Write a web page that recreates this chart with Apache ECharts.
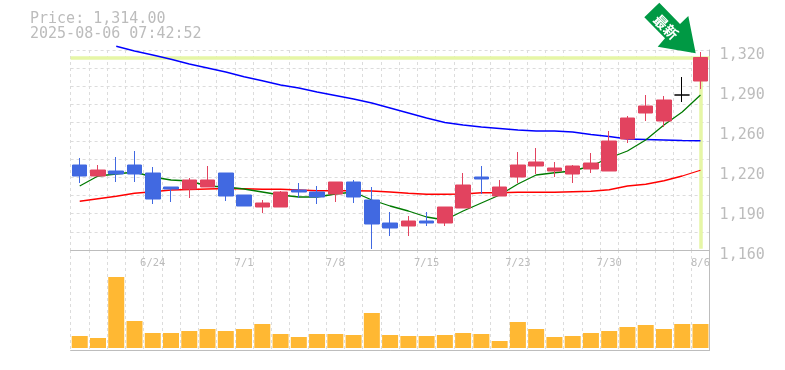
<!DOCTYPE html>
<html>
<head>
<meta charset="utf-8">
<style>html,body{margin:0;padding:0;background:#fff}#c{width:785px;height:370px}</style>
<script src="https://cdn.jsdelivr.net/npm/echarts@6/dist/echarts.min.js"></script>
</head>
<body>
<div id="c"></div>
<script>
const categories = ['6/18','6/19','6/20','6/23','6/24','6/25','6/26','6/27','6/30','7/1','7/2','7/3','7/4','7/7','7/8','7/9','7/10','7/11','7/14','7/15','7/16','7/17','7/18','7/22','7/23','7/24','7/25','7/28','7/29','7/30','7/31','8/1','8/4','8/5','8/6'];
const labelledDates = ['6/24','7/1','7/8','7/15','7/23','7/30','8/6'];
const priceText = 'Price: 1,314.00';
const timeText = '2025-08-06 07:42:52';
const badgeText = '最新';
// open, close, low, high
const candles = [
[1228,1219.2,1213.6,1233.6],[1219.2,1224,1219.2,1228],[1223.2,1220.8,1214.4,1234.4],[1228,1220.8,1214.4,1239.2],
[1221.6,1200.8,1196.8,1226.4],[1210.4,1208.8,1198.4,1210.4],[1208.8,1216,1201.6,1217.6],[1210.4,1216,1210.4,1227.2],
[1221.6,1203.2,1199.2,1221.6],[1204,1195.2,1195.2,1204],[1194.4,1197.6,1189.6,1200],[1194.4,1206.4,1194.4,1207.2],
[1208,1206.4,1201.6,1213.6],[1206.4,1202.4,1196.8,1211.2],[1204.8,1214.4,1198.4,1214.4],[1214.4,1202.4,1197.6,1216],
[1200,1180.8,1160.8,1210.4],[1181.6,1177.6,1171.2,1190.4],[1179.2,1183.2,1171.2,1187.2],[1183.2,1181.6,1179.2,1190.4],
[1181.6,1194.4,1179.2,1194.4],[1193.6,1212,1193.6,1221.6],[1218.4,1216.8,1204.8,1227.2],[1203.2,1210.4,1203.2,1216],
[1218.4,1228,1213.6,1238.4],[1227.2,1230.4,1220.8,1241.6],[1223.2,1225.6,1218.4,1230.4],[1220.8,1227.2,1213.6,1228],
[1224.8,1229.6,1221.6,1237.6],[1223.2,1247.2,1223.2,1255.2],[1248.8,1265.6,1245.6,1267.2],[1269.6,1275.2,1263.2,1284],
[1263.2,1280,1258.4,1283.2],[1284,1284,1278.4,1298.4],[1295.2,1314,1288.8,1318.4]];
const dojiIndex = 33;
const maShort = [1211.2,1219.2,1220.8,1222.4,1218.4,1216,1215.2,1211.2,1210.4,1208.8,1206.4,1204,1202.4,1202.4,1204.8,1206.4,1200,1195.2,1191.2,1186.4,1184,1191.2,1197.6,1204,1212.8,1220,1221.8,1223.2,1227.2,1233.6,1239.2,1248,1260,1270.4,1284];
const maMid = [1199,1201,1203,1205.4,1206.6,1208,1208.4,1208.8,1209.2,1209,1208.6,1208.6,1208,1207.4,1207.4,1207.4,1207.2,1206.4,1205.4,1204.6,1204.6,1204.8,1205.8,1205.8,1206.2,1206.2,1206.2,1206.6,1207,1208.2,1211.2,1212.6,1215.4,1219.2,1223.8];
const maLong = [null,null,1323,1319.2,1316,1312.6,1308.8,1305.6,1302.4,1298.6,1295.4,1292,1289.6,1286.4,1283.6,1280.8,1277.6,1273.6,1269.6,1265.6,1262,1260,1258.4,1257.2,1256,1255.2,1255.2,1254.4,1252.4,1250.8,1248.8,1248.4,1248,1247.6,1247.4];
const volumes = [12,10,71,27,15,15,17,19,17,19,24,14,11,14,14,13,35,13,12,12,13,15,14,7,26,19,11,12,15,17,21,23,19,24,24];
const priceGrid = [1160,1174.55,1189.09,1203.64,1218.18,1232.73,1247.27,1261.82,1276.36,1290.91,1305.45,1320];
const priceTicks = [1160,1192,1224,1256,1288,1320];
const priceTickLabels = ['1,160','1,190','1,220','1,260','1,290','1,320'];

const GRID='#dcdcdc', AXIS='#bdbdbd', TXT='#bcbcbc', HL='#e6f6a6', UP='#e2435f', DOWN='#4169e1';
const MONO='"DejaVu Sans Mono","Liberation Mono",monospace';
const last = candles.length-1;
const lastClose = candles[last][1];
const candleData = candles.map((c,i)=> i===dojiIndex
  ? {value:c,itemStyle:{color:'#000',color0:'#000',borderColor:'#000',borderColor0:'#000',borderColorDoji:'#000'}}
  : c);
const xBase = {type:'category',data:categories,boundaryGap:true,
  axisTick:{show:false},
  splitLine:{show:true,interval:0,lineStyle:{color:GRID,type:[3,3],width:1}},
  axisLine:{show:true,onZero:false,lineStyle:{color:AXIS,width:1}}};
const chart = echarts.init(document.getElementById('c'),null,{renderer:'canvas'});
chart.setOption({
  animation:false,
  backgroundColor:'#fff',
  grid:[{left:70.6,top:50,width:639,height:200},{left:70.6,top:250,width:639,height:100}],
  xAxis:[
    Object.assign({},xBase,{gridIndex:0,axisLabel:{show:true,interval:0,margin:8,color:TXT,fontFamily:MONO,fontSize:10.5,
      formatter:v=>labelledDates.includes(v)?v:''}}),
    Object.assign({},xBase,{gridIndex:1,axisLabel:{show:false}})
  ],
  yAxis:[
    {type:'value',gridIndex:0,position:'right',min:1160,max:1320,
     axisTick:{show:false,customValues:priceGrid},
     axisLine:{show:true,lineStyle:{color:AXIS,width:1}},
     splitLine:{show:true,lineStyle:{color:GRID,type:[3,3],width:1}},
     axisLabel:{show:true,customValues:priceTicks,margin:10,color:TXT,fontFamily:MONO,fontSize:15,
       verticalAlign:'top',lineHeight:10,
       formatter:v=>priceTickLabels[priceTicks.indexOf(v)]}},
    {type:'value',gridIndex:1,position:'right',min:-2,max:98,
     axisTick:{show:false},axisLabel:{show:false},
     axisLine:{show:true,lineStyle:{color:AXIS,width:1}},splitLine:{show:false}}
  ],
  series:[
    {type:'line',name:'hl',data:[],xAxisIndex:0,yAxisIndex:0,z:1,silent:true,
     markLine:{symbol:'none',silent:true,animation:false,label:{show:false},z:1,
       lineStyle:{color:HL,width:3.5,type:'solid'},
       data:[{yAxis:lastClose},[{coord:[last,lastClose]},{coord:[last,1161]}]]}},
    {type:'line',name:'ma3',data:maLong,xAxisIndex:0,yAxisIndex:0,z:2,clip:false,showSymbol:false,symbol:'none',
     lineStyle:{color:'#0000ff',width:1.3}},
    {type:'line',name:'ma2',data:maMid,xAxisIndex:0,yAxisIndex:0,z:2,showSymbol:false,symbol:'none',
     lineStyle:{color:'#ff0000',width:1.3}},
    {type:'line',name:'ma1',data:maShort,xAxisIndex:0,yAxisIndex:0,z:2,showSymbol:false,symbol:'none',
     lineStyle:{color:'#007a00',width:1.3}},
    {type:'candlestick',name:'price',data:candleData,xAxisIndex:0,yAxisIndex:0,z:3,barWidth:15,
     itemStyle:{color:UP,color0:DOWN,borderColor:UP,borderColor0:DOWN,borderWidth:1}},
    {type:'bar',name:'vol',data:volumes,xAxisIndex:1,yAxisIndex:1,barWidth:16,z:3,itemStyle:{color:'#ffb833'}}
  ],
  graphic:[
    {type:'text',left:30,top:12,silent:true,style:{text:priceText,fill:TXT,font:'15px '+MONO}},
    {type:'text',left:30,top:27,silent:true,style:{text:timeText,fill:TXT,font:'15px '+MONO}},
    {type:'polygon',silent:true,z:10,shape:{points:[[659.3,2.7],[644.3,17.3],[665,38.3],[657.7,46.7],[695.7,53.3],[688.3,16],[680,24]]},style:{fill:'#009944'}},
    {type:'text',silent:true,z:11,x:666,y:27,rotation:-Math.PI/4,
     style:{text:badgeText,fill:'#fff',font:'bold 14px "Noto Sans CJK JP"',align:'center',verticalAlign:'middle'}}
  ]
});
</script>
</body>
</html>
